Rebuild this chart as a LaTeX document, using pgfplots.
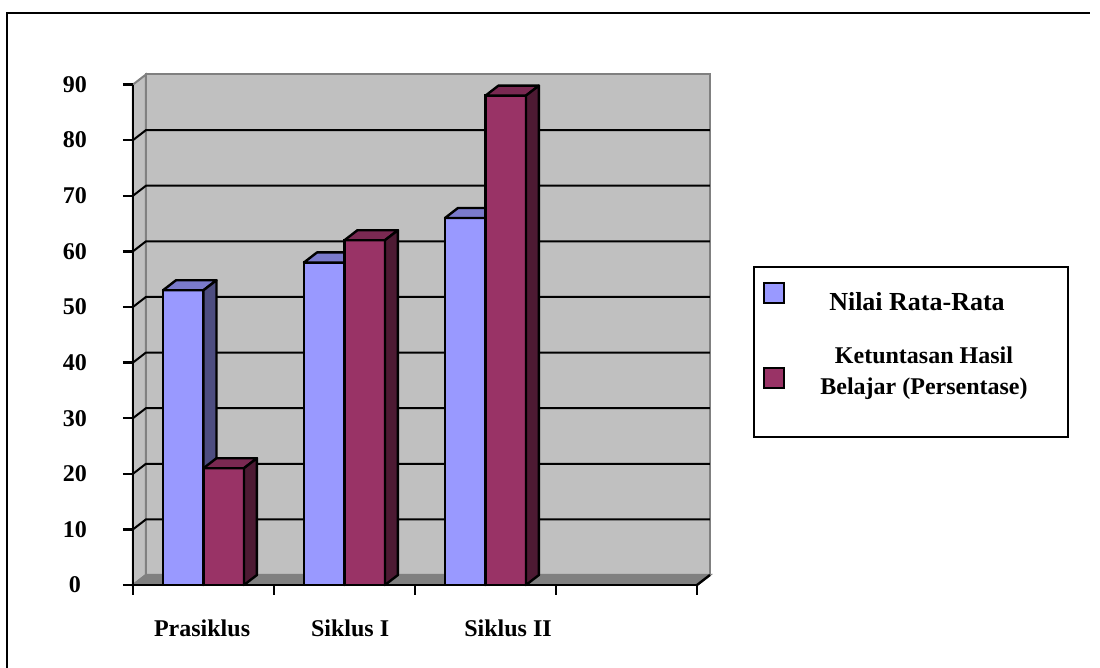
\documentclass[border=0pt]{standalone}
\usepackage{fontspec}
\setmainfont{Liberation Serif}
\usepackage{pgfplots}
\pgfplotsset{compat=1.18}

\definecolor{wallgray}{HTML}{C0C0C0}
\definecolor{edgegray}{HTML}{808080}
\definecolor{barblue}{HTML}{9999FF}
\definecolor{bluetop}{HTML}{7A7ACC}
\definecolor{blueside}{HTML}{4D4D80}
\definecolor{barred}{HTML}{993366}
\definecolor{redtop}{HTML}{7A2952}
\definecolor{redside}{HTML}{4D1A33}

\begin{document}
\begin{tikzpicture}
\useasboundingbox (0,0) rectangle (550pt,334pt);
% page frame (only top and left edges are visible)
\draw[line width=1pt] (3.5pt,0pt) -- (3.5pt,327.5pt) -- (545pt,327.5pt);

\begin{axis}[
    at={(66.5pt,41.5pt)}, anchor=origin,
    scale only axis,
    width=282pt, height=250.25pt,
    xmin=0, xmax=4, ymin=0, ymax=90,
    enlargelimits=false, clip=false,
    axis on top,
    axis lines=left,
    axis line style={-, black, line width=1.2pt},
    tick style={black, line width=1.2pt},
    major tick length=5pt, tick align=outside,
    xtick={0,1,2,3,4}, xticklabels={},
    ytick={0,10,...,90},
    extra x ticks={0.49,1.54,2.66},
    extra x tick labels={Prasiklus, Siklus I, Siklus II},
    extra x tick style={major tick length=0pt,
        tick label style={anchor=center, yshift=-21.5pt}},
    /pgf/number format/assume math mode=true,
    ticklabel style={font=\bfseries\fontsize{12}{14}\selectfont},
    yticklabel style={anchor=center, xshift=-24pt},
]
% back wall, side wall, floor
\addplot[fill=wallgray, draw=edgegray, line width=1pt]
    coordinates {(0.092,1.8) (4.092,1.8) (4.092,91.8) (0.092,91.8)} -- cycle;
\addplot[fill=wallgray, draw=edgegray, line width=1pt]
    coordinates {(0,0) (0.092,1.8) (0.092,91.8) (0,90)} -- cycle;
\addplot[fill=edgegray, draw=edgegray, line width=1pt]
    coordinates {(0,0) (4,0) (4.092,1.8) (0.092,1.8)} -- cycle;
\addplot[black, line width=1.2pt] coordinates {(4,0) (4.092,1.8)};

% gridlines on back wall and depth lines on side wall
\foreach \v in {10,20,...,80} {
    \edef\tmp{\noexpand\addplot[black, line width=1pt]
        coordinates {(0,\v) (0.092,\v+1.8) (4.092,\v+1.8)};}
    \tmp
}

% Nilai Rata-Rata: front faces
\addplot[ybar, bar width=0.287, bar shift=-0.1435, fill=barblue, draw=black, line width=1.2pt]
    coordinates {(0.5,53) (1.5,58) (2.5,66)};
% top faces
\addplot[fill=bluetop, draw=black, line width=1.2pt, line join=round]
    coordinates {(0.213,53) (0.5,53) (0.592,54.8) (0.305,54.8)} -- cycle;
\addplot[fill=bluetop, draw=black, line width=1.2pt, line join=round]
    coordinates {(1.213,58) (1.5,58) (1.592,59.8) (1.305,59.8)} -- cycle;
\addplot[fill=bluetop, draw=black, line width=1.2pt, line join=round]
    coordinates {(2.213,66) (2.5,66) (2.592,67.8) (2.305,67.8)} -- cycle;
% side faces
\addplot[fill=blueside, draw=black, line width=1.2pt, line join=round]
    coordinates {(0.5,0) (0.5,53) (0.592,54.8) (0.592,1.8)} -- cycle;
\addplot[fill=blueside, draw=black, line width=1.2pt, line join=round]
    coordinates {(1.5,0) (1.5,58) (1.592,59.8) (1.592,1.8)} -- cycle;
\addplot[fill=blueside, draw=black, line width=1.2pt, line join=round]
    coordinates {(2.5,0) (2.5,66) (2.592,67.8) (2.592,1.8)} -- cycle;

% Ketuntasan Hasil Belajar: front faces
\addplot[ybar, bar width=0.287, bar shift=0.1435, fill=barred, draw=black, line width=1.2pt]
    coordinates {(0.5,21) (1.5,62) (2.5,88)};
% top faces
\addplot[fill=redtop, draw=black, line width=1.2pt, line join=round]
    coordinates {(0.5,21) (0.787,21) (0.879,22.8) (0.592,22.8)} -- cycle;
\addplot[fill=redtop, draw=black, line width=1.2pt, line join=round]
    coordinates {(1.5,62) (1.787,62) (1.879,63.8) (1.592,63.8)} -- cycle;
\addplot[fill=redtop, draw=black, line width=1.2pt, line join=round]
    coordinates {(2.5,88) (2.787,88) (2.879,89.8) (2.592,89.8)} -- cycle;
% side faces
\addplot[fill=redside, draw=black, line width=1.2pt, line join=round]
    coordinates {(0.787,0) (0.787,21) (0.879,22.8) (0.879,1.8)} -- cycle;
\addplot[fill=redside, draw=black, line width=1.2pt, line join=round]
    coordinates {(1.787,0) (1.787,62) (1.879,63.8) (1.879,1.8)} -- cycle;
\addplot[fill=redside, draw=black, line width=1.2pt, line join=round]
    coordinates {(2.787,0) (2.787,88) (2.879,89.8) (2.879,1.8)} -- cycle;
\end{axis}

% legend
\draw[line width=1pt, fill=white] (377pt,115.5pt) rectangle (534pt,200.5pt);
\draw[line width=1pt, fill=barblue] (382pt,182.5pt) rectangle (392pt,192.5pt);
\draw[line width=1pt, fill=barred] (382pt,140pt) rectangle (392pt,150pt);
\node[font=\bfseries\fontsize{13}{15}\selectfont] at (458.5pt,183pt) {Nilai Rata-Rata};
\node[font=\bfseries\fontsize{12}{15.5}\selectfont, align=center] at (462pt,147.5pt)
    {Ketuntasan Hasil\\Belajar (Persentase)};
\end{tikzpicture}
\end{document}
